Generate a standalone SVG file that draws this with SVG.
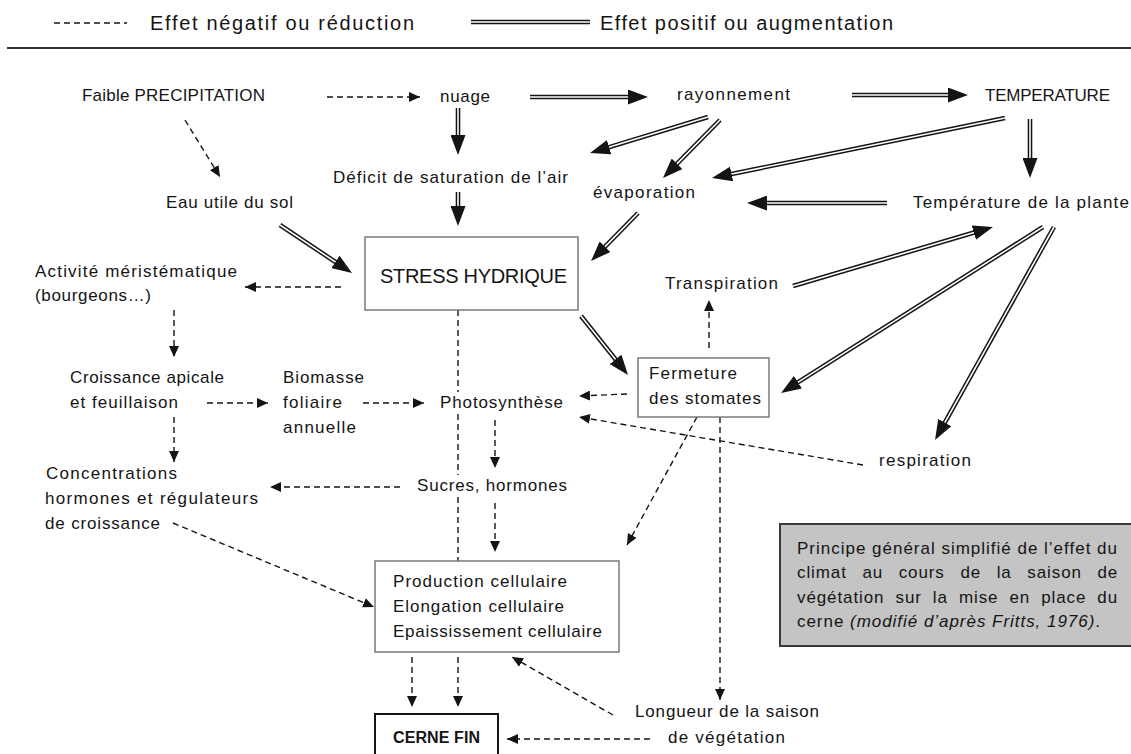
<svg xmlns="http://www.w3.org/2000/svg" width="1131" height="754" viewBox="0 0 1131 754">
<style>
.t{font-family:"Liberation Sans",Arial,sans-serif;font-size:17px;fill:#141414}
.lg{font-size:20px}
.big{font-size:20px}
.b{font-weight:bold;font-size:16px}
.it{font-style:italic}
.dash{fill:none;stroke:#141414;stroke-width:1.4;stroke-dasharray:6 4}
.dbo{fill:none;stroke:#141414;stroke-width:4.6}
.dbi{fill:none;stroke:#fff;stroke-width:1.6}
.box{fill:#fff;stroke:#7a7a7a;stroke-width:1.5}
.boxk{fill:#fff;stroke:#141414;stroke-width:2}
.gbox{fill:#c4c4c4;stroke:#3a3a3a;stroke-width:2}
.rule{stroke:#333;stroke-width:2}
</style>
<defs>
<marker id="ah" markerUnits="userSpaceOnUse" viewBox="0 0 20 15" markerWidth="20" markerHeight="15" refX="10" refY="7.5" orient="auto"><path d="M0,0 L20,7.5 L0,15 z" fill="#141414"/></marker>
<marker id="dh" markerUnits="userSpaceOnUse" viewBox="0 0 11 10" markerWidth="11" markerHeight="10" refX="11" refY="5" orient="auto"><path d="M0,0 L11,5 L0,10 z" fill="#141414"/></marker>
</defs>
<rect width="1131" height="754" fill="#fff"/>

<g id="legend">
<path class="dash" d="M54,23 H127" stroke-dasharray="6 4.5"/>
<text class="t lg" x="150" y="30" textLength="264">Effet négatif ou réduction</text>
<path class="dbo" d="M471,22 H590" stroke-width="4.2"/>
<path class="dbi" d="M471,22 H590"/>
<text class="t lg" x="600" y="30" textLength="293">Effet positif ou augmentation</text>
<line class="rule" x1="7" y1="48" x2="1131" y2="48"/>
</g>

<g id="connectors">
<path class="dbo" d="M530,97 L638,97"/><path class="dbi" d="M530,97 L638,97" marker-end="url(#ah)"/>
<path class="dbo" d="M852,95 L958,95"/><path class="dbi" d="M852,95 L958,95" marker-end="url(#ah)"/>
<path class="dbo" d="M458,108 L458,145"/><path class="dbi" d="M458,108 L458,145" marker-end="url(#ah)"/>
<path class="dbo" d="M458,192 L458,216"/><path class="dbi" d="M458,192 L458,216" marker-end="url(#ah)"/>
<path class="dbo" d="M280,225 L343.7,267.5"/><path class="dbi" d="M280,225 L343.7,267.5" marker-end="url(#ah)"/>
<path class="dbo" d="M708,117 L599.6,150.1"/><path class="dbi" d="M708,117 L599.6,150.1" marker-end="url(#ah)"/>
<path class="dbo" d="M720,120 L670,170.9"/><path class="dbi" d="M720,120 L670,170.9" marker-end="url(#ah)"/>
<path class="dbo" d="M1005,118 L721.8,176"/><path class="dbi" d="M1005,118 L721.8,176" marker-end="url(#ah)"/>
<path class="dbo" d="M1030,119 L1030,168"/><path class="dbi" d="M1030,119 L1030,168" marker-end="url(#ah)"/>
<path class="dbo" d="M887,203 L757,203"/><path class="dbi" d="M887,203 L757,203" marker-end="url(#ah)"/>
<path class="dbo" d="M638,213 L598,253.9"/><path class="dbi" d="M638,213 L598,253.9" marker-end="url(#ah)"/>
<path class="dbo" d="M793,286 L983.4,229.8"/><path class="dbi" d="M793,286 L983.4,229.8" marker-end="url(#ah)"/>
<path class="dbo" d="M581,316 L621.8,367.2"/><path class="dbi" d="M581,316 L621.8,367.2" marker-end="url(#ah)"/>
<path class="dbo" d="M1043,227 L789.5,387.6"/><path class="dbi" d="M1043,227 L789.5,387.6" marker-end="url(#ah)"/>
<path class="dbo" d="M1054,227 L939.9,431.3"/><path class="dbi" d="M1054,227 L939.9,431.3" marker-end="url(#ah)"/>
<path class="dash" d="M327,97 L420,97" marker-end="url(#dh)"/>
<path class="dash" d="M185,120 L220,177" marker-end="url(#dh)"/>
<path class="dash" d="M341,287 L245,287" marker-end="url(#dh)"/>
<path class="dash" d="M174,310 L174,357" marker-end="url(#dh)"/>
<path class="dash" d="M207,403 L268,403" marker-end="url(#dh)"/>
<path class="dash" d="M363,403 L424,403" marker-end="url(#dh)"/>
<path class="dash" d="M174,417 L174,462" marker-end="url(#dh)"/>
<path class="dash" d="M709,348 L709,300" marker-end="url(#dh)"/>
<path class="dash" d="M627,394 L579,396" marker-end="url(#dh)"/>
<path class="dash" d="M863,465 L579,417" marker-end="url(#dh)"/>
<path class="dash" d="M495,420 L495,468" marker-end="url(#dh)"/>
<path class="dash" d="M400,487 L270,487" marker-end="url(#dh)"/>
<path class="dash" d="M495,503 L495,552" marker-end="url(#dh)"/>
<path class="dash" d="M697,417 L627,545" marker-end="url(#dh)"/>
<path class="dash" d="M173,523 L374,607" marker-end="url(#dh)"/>
<path class="dash" d="M720,417 L720,700" marker-end="url(#dh)"/>
<path class="dash" d="M412,657 L412,707" marker-end="url(#dh)"/>
<path class="dash" d="M458,657 L458,707" marker-end="url(#dh)"/>
<path class="dash" d="M613,715 L512,657" marker-end="url(#dh)"/>
<path class="dash" d="M650,739 L507,739" marker-end="url(#dh)"/>
<path class="dash" d="M458,310 V392 M458,414 V475 M458,497 V561"/>
</g>

<g id="n-precipitation"><text class="t" x="82" y="101" textLength="183">Faible PRECIPITATION</text></g>
<g id="n-nuage"><text class="t" x="440" y="102" textLength="50">nuage</text></g>
<g id="n-rayonnement"><text class="t" x="677" y="100" textLength="113">rayonnement</text></g>
<g id="n-temperature"><text class="t" x="985" y="101" textLength="125">TEMPERATURE</text></g>
<g id="n-deficit"><text class="t" x="333" y="183" textLength="235">Déficit de saturation de l’air</text></g>
<g id="n-evaporation"><text class="t" x="593" y="198" textLength="102">évaporation</text></g>
<g id="n-eau"><text class="t" x="166" y="208" textLength="127">Eau utile du sol</text></g>
<g id="n-temp-plante"><text class="t" x="913" y="208" textLength="216">Température de la plante</text></g>
<g id="n-stress"><rect class="box" x="365" y="237" width="213" height="73"/><text class="t big" x="380" y="283" textLength="187">STRESS HYDRIQUE</text></g>
<g id="n-activite"><text class="t" x="35" y="277" textLength="202">Activité méristématique</text><text class="t" x="35" y="301" textLength="116">(bourgeons…)</text></g>
<g id="n-transpiration"><text class="t" x="665" y="289" textLength="113">Transpiration</text></g>
<g id="n-croissance"><text class="t" x="70" y="383" textLength="154">Croissance apicale</text><text class="t" x="70" y="408" textLength="108">et feuillaison</text></g>
<g id="n-biomasse"><text class="t" x="283" y="383" textLength="81">Biomasse</text><text class="t" x="283" y="408" textLength="59">foliaire</text><text class="t" x="283" y="433" textLength="73">annuelle</text></g>
<g id="n-photosynthese"><text class="t" x="440" y="408" textLength="123">Photosynthèse</text></g>
<g id="n-fermeture"><rect class="box" x="638" y="358" width="131" height="59"/><text class="t" x="649" y="379" textLength="88">Fermeture</text><text class="t" x="649" y="404" textLength="112">des stomates</text></g>
<g id="n-respiration"><text class="t" x="879" y="466" textLength="92">respiration</text></g>
<g id="n-concentrations"><text class="t" x="46" y="479" textLength="131">Concentrations</text><text class="t" x="45" y="504" textLength="213">hormones et régulateurs</text><text class="t" x="45" y="529" textLength="115">de croissance</text></g>
<g id="n-sucres"><text class="t" x="417" y="491" textLength="150">Sucres, hormones</text></g>
<g id="n-production"><rect class="box" x="375" y="561" width="244" height="91"/><text class="t" x="393" y="587" textLength="174">Production cellulaire</text><text class="t" x="393" y="612" textLength="171">Elongation cellulaire</text><text class="t" x="393" y="637" textLength="209">Epaississement cellulaire</text></g>
<g id="n-longueur"><text class="t" x="635" y="717" textLength="184">Longueur de la saison</text><text class="t" x="668" y="743" textLength="117">de végétation</text></g>
<g id="n-cerne"><rect class="boxk" x="375" y="714" width="123" height="60"/><text class="t b" x="393" y="743" textLength="87">CERNE FIN</text></g>
<g id="caption">
<rect class="gbox" x="780" y="524" width="352" height="122"/>
<text class="t" x="797" y="554" textLength="320">Principe général simplifié de l’effet du</text>
<text class="t" y="578" letter-spacing="0.9"><tspan x="797">climat</tspan><tspan x="862.4">au</tspan><tspan x="898.7">cours</tspan><tspan x="960.4">de</tspan><tspan x="996.7">la</tspan><tspan x="1027.3">saison</tspan><tspan x="1097.4">de</tspan></text>
<text class="t" y="603" letter-spacing="0.9"><tspan x="797">végétation</tspan><tspan x="895.5">sur</tspan><tspan x="932.8">la</tspan><tspan x="958.9">mise</tspan><tspan x="1009.4">en</tspan><tspan x="1041.2">place</tspan><tspan x="1097.3">du</tspan></text>
<text class="t" x="797" y="627" textLength="303">cerne <tspan class="it">(modifié d’après Fritts, 1976)</tspan>.</text>
</g>
</svg>
